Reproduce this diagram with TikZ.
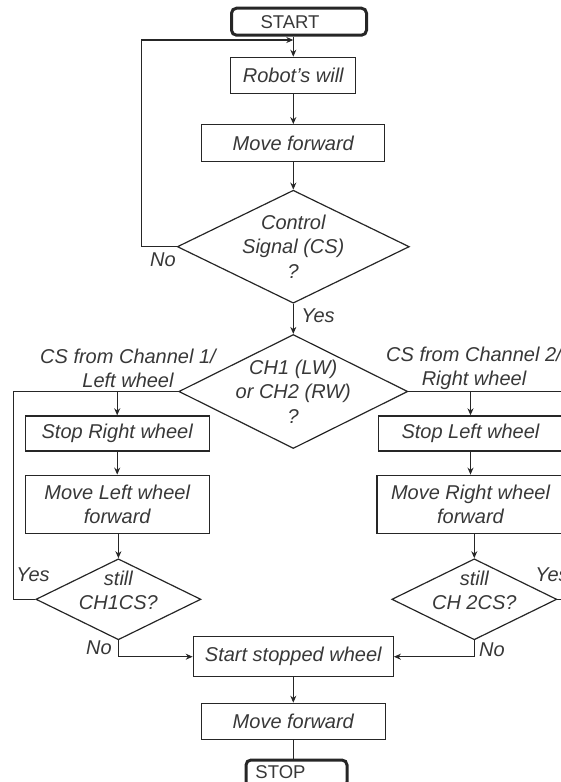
\documentclass[tikz,border=0pt]{standalone}
\usepackage{fontspec}
\setmainfont{Liberation Sans}
\usetikzlibrary{calc}
\usetikzlibrary{arrows.meta}
\usetikzlibrary{shapes.geometric}
\definecolor{ink}{HTML}{262626}
\definecolor{txt}{HTML}{383838}
\tikzset{
  box/.style={draw=ink,line width=1.2pt,rectangle,inner sep=0pt,align=center,text=txt,font=\fontsize{20}{24.5}\selectfont\itshape},
  decision/.style={draw=ink,line width=1.2pt,diamond,inner sep=0pt},
  terminal/.style={draw=ink,line width=3pt,rectangle,rounded corners=5pt,inner sep=0pt},
  lbl/.style={text=txt,align=center,font=\fontsize{20}{24.5}\selectfont\itshape},
  termtext/.style={text=txt,font=\fontsize{18.5}{20}\selectfont}
}

\begin{document}
\begin{tikzpicture}[x=1pt,y=-1pt,line width=1.2pt,color=ink,>={Stealth[length=7pt,width=6pt]}]
        \useasboundingbox (0,0) rectangle (561,782);
        \clip (0,0) rectangle (561,782);
        \node[terminal,minimum width=135pt,minimum height=27pt,label={[termtext,xshift=-9pt]center:START}] (start) at (299,21.7) {};
        \node[box,minimum width=125pt,minimum height=36pt] (will) at (293.3,75.3) {Robot's will};
        \node[box,minimum width=183pt,minimum height=37pt] (fwd) at (293.3,143.2) {Move forward};
        \node[decision,minimum width=232pt,minimum height=113pt,label={[lbl]center:{Control\\Signal (CS)\\?}}] (cs) at (293.3,246.7) {};
        \node[decision,minimum width=229pt,minimum height=114pt,label={[lbl]center:{CH1 (LW)\\or CH2 (RW)\\?}}] (ch) at (293.3,391.5) {};
        \node[box,minimum width=184pt,minimum height=35pt] (stopR) at (117.2,433.4) {Stop Right wheel};
        \node[box,minimum width=184pt,minimum height=58pt] (moveL) at (117.2,504.2) {Move Left wheel\\forward};
        \node[decision,minimum width=165pt,minimum height=81pt,label={[lbl,yshift=9pt]center:{still\\CH1CS?}}] (still1) at (118.4,599.3) {};
        \node[box,minimum width=184pt,minimum height=35pt] (stopL) at (470.5,433.4) {Stop Left wheel};
        \node[box,minimum width=187pt,minimum height=58pt] (moveR) at (470.5,504.2) {Move Right wheel\\forward};
        \node[decision,minimum width=165pt,minimum height=81pt,label={[lbl,yshift=9pt]center:{still\\CH 2CS?}}] (still2) at (474.3,599.3) {};
        \node[box,minimum width=200pt,minimum height=40pt] (restart) at (293.3,656.7) {Start stopped wheel};
        \node[box,minimum width=184pt,minimum height=36pt] (fwd2) at (293.3,721.3) {Move forward};
        \node[terminal,minimum width=101pt,minimum height=27pt,label={[termtext,xshift=-16pt,yshift=1pt]center:STOP}] (stop) at (296.5,773.5) {};
        \node[lbl] (no1) at (163,260) {No};
        \node[lbl] (yes1) at (318,316) {Yes};
        \node[lbl] (from1) at (128,368.5) {CS from Channel 1/\\Left wheel};
        \node[lbl] (from2) at (474,368.5) {CS from Channel 2/\\Right wheel};
        \node[lbl] (yes2) at (33,575) {Yes};
        \node[lbl] (yes3) at (552,575) {Yes};
        \node[lbl] (no2) at (99,648) {No};
        \node[lbl] (no3) at (492,650) {No};
        \coordinate (join) at (293.3,40);
        \draw[->] (will.north |- start.south) -- (will.north);
        \draw[->] (cs.west) -- ++(-35,0) |- (join);
        \draw[->] (will.south) -- (fwd.north);
        \draw[->] (fwd.south) -- (cs.north);
        \draw[->] (cs.south) -- (ch.north);
        \draw (ch.west) -- ++(-164.5,0) |- (still1.west);
        \draw[->] (stopR.north |- ch.west) -- (stopR.north);
        \draw[->] (stopR.south) -- (moveL.north);
        \draw[->] (still1.north |- moveL.south) -- (still1.north);
        \draw[->] (still1.south) |- (restart.west);
        \draw (ch.east) -- ++(170,0) |- (still2.east);
        \draw[->] (stopL.north |- ch.east) -- (stopL.north);
        \draw[->] (stopL.south) -- (moveR.north);
        \draw[->] (still2.north |- moveR.south) -- (still2.north);
        \draw[->] (still2.south) |- (restart.east);
        \draw[->] (restart.south) -- (fwd2.north);
        \draw (fwd2.south) -- (fwd2.south |- stop.north);
    \end{tikzpicture}
\end{document}
